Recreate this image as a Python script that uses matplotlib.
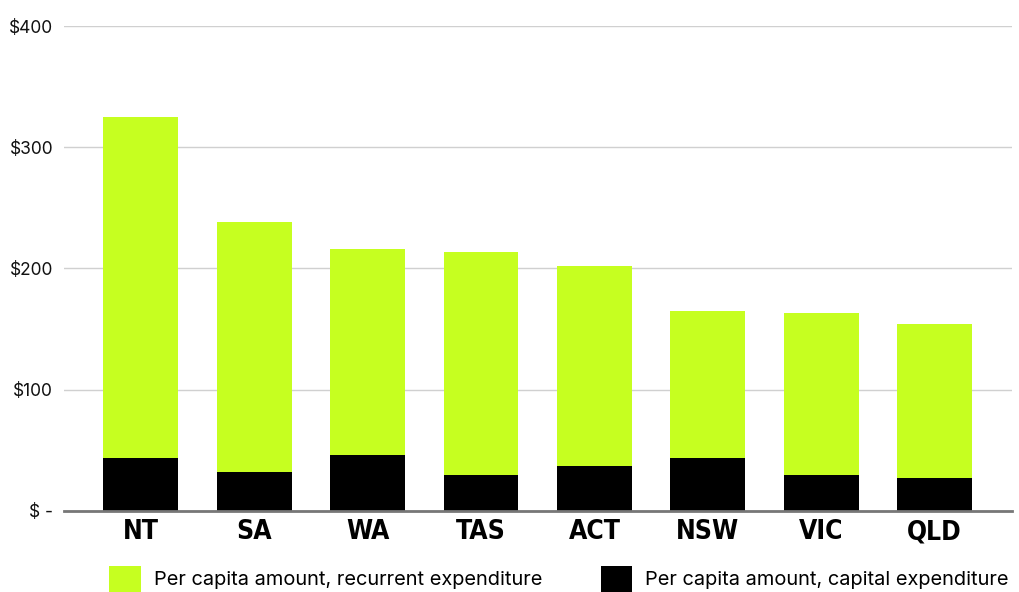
import matplotlib.pyplot as plt
from matplotlib.patches import Patch
from matplotlib.ticker import FuncFormatter

states = ['NT', 'SA', 'WA', 'TAS', 'ACT', 'NSW', 'VIC', 'QLD']
capital = [44, 32, 46, 30, 37, 44, 30, 27]
total = [325, 238, 216, 214, 202, 165, 163, 154]
recurrent = [t - c for t, c in zip(total, capital)]

green = '#C6FF20'
black = '#000000'

plt.rcParams['font.family'] = ['Inter', 'DejaVu Sans']

fig = plt.figure(figsize=(10.2, 5.92), dpi=100)
ax = fig.add_axes([0.063, 0.137, 0.929, 0.819])

x = range(len(states))
ax.bar(x, capital, width=0.66, color=black, zorder=3)
ax.bar(x, recurrent, bottom=capital, width=0.66, color=green, zorder=3)

ax.set_ylim(0, 400)
ax.set_xlim(-0.674, 7.68)
ax.set_yticks([0, 100, 200, 300, 400])
ax.yaxis.set_major_formatter(FuncFormatter(lambda v, p: '$ -' if v == 0 else f'${int(v)}'))
ax.grid(axis='y', color='#d0d0d0', linewidth=1, zorder=0)
ax.set_axisbelow(True)

for s in ['top', 'right', 'left']:
    ax.spines[s].set_visible(False)
ax.spines['bottom'].set_color('#777777')
ax.spines['bottom'].set_linewidth(2)
ax.spines['bottom'].set_zorder(4)

ax.set_xticks(list(x))
ax.set_xticklabels(states, family=['DejaVu Sans'], fontstretch='condensed',
                   fontweight='bold', fontsize=19)
ax.tick_params(axis='x', length=0, pad=6)
ax.tick_params(axis='y', length=0, pad=8, labelsize=12.5, labelcolor='#111111')

handles = [Patch(facecolor=green, label='Per capita amount, recurrent expenditure'),
           Patch(facecolor=black, label='Per capita amount, capital expenditure')]
fig.legend(handles=handles, loc='lower center', bbox_to_anchor=(0.548, -0.03), ncol=2,
           frameon=False, fontsize=14.4, handlelength=1.58, handleheight=1.6,
           handletextpad=0.64, columnspacing=2.95)

fig.savefig('out.png', dpi=100)
